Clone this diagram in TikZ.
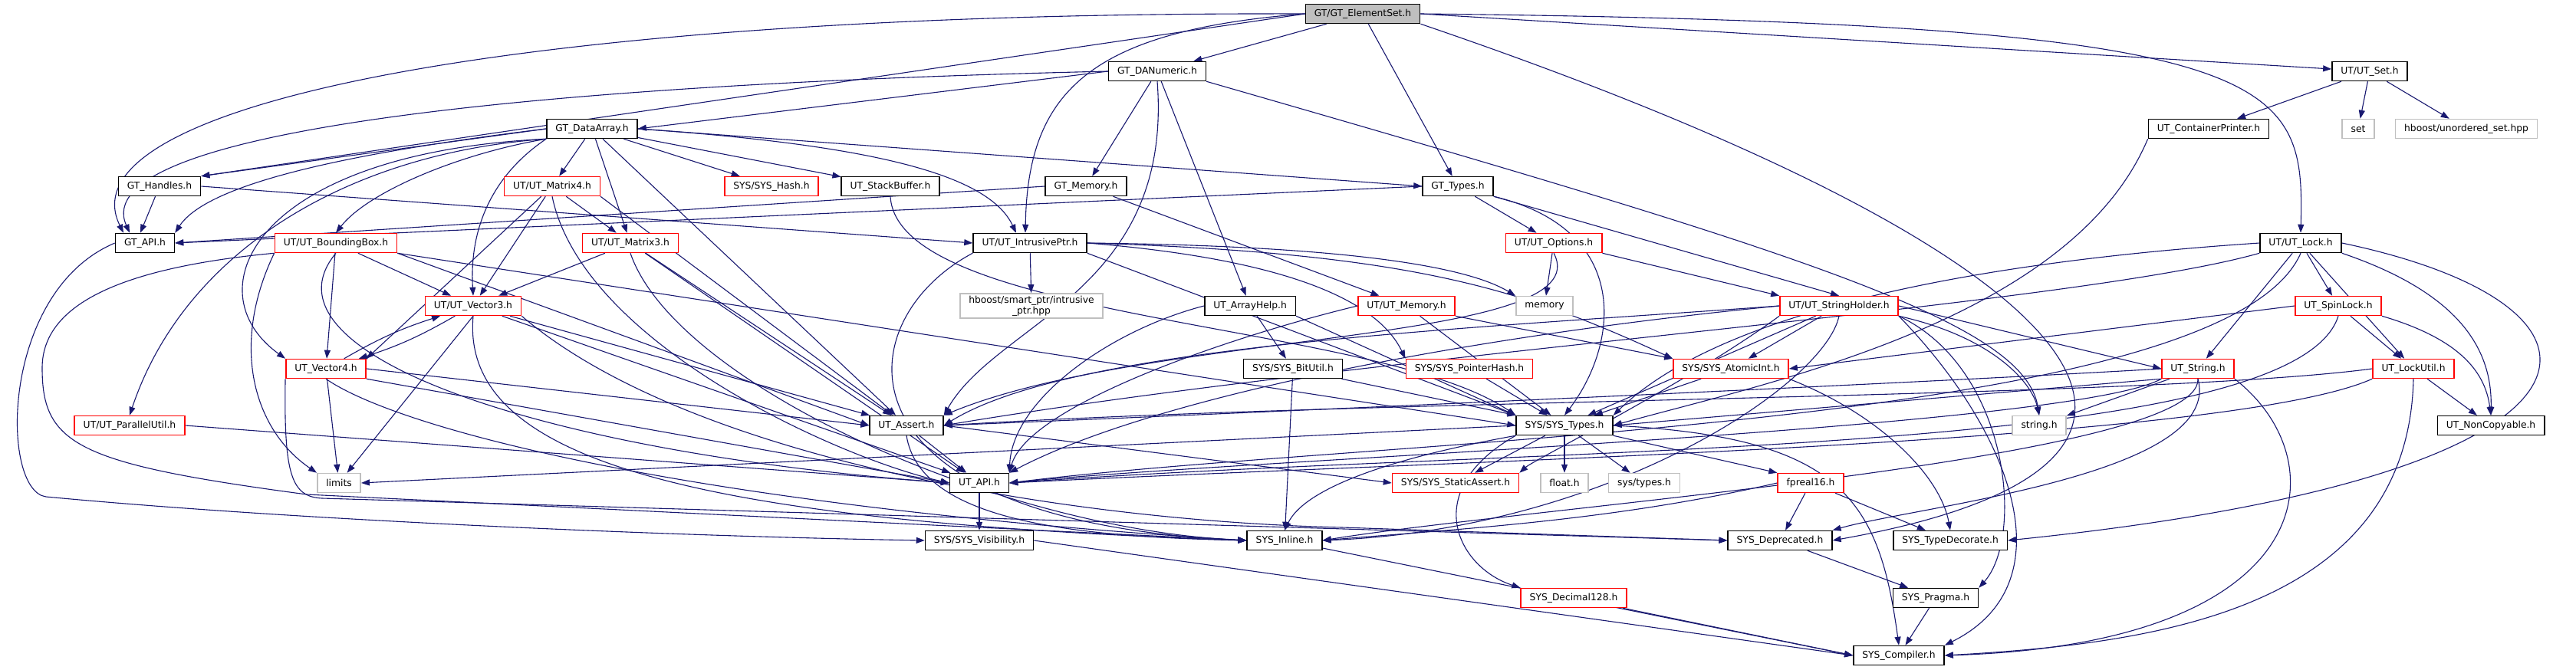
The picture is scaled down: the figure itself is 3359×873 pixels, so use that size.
\documentclass[tikz,border=0pt]{standalone}
\usepackage{fontspec}
\usepackage{xcolor}
\usetikzlibrary{arrows.meta,backgrounds}
\newfontfamily\dotfont{DejaVu Sans}
\definecolor{edgeblue}{HTML}{191970}
\definecolor{grey75}{HTML}{BFBFBF}
\tikzset{
    header/.style = {rectangle, draw=black, line width=1.5pt, fill=white, minimum height=25pt, inner xsep=11.5pt, inner ysep=2pt, text centered, font=\dotfont\fontsize{12.3}{14}\selectfont},
    truncated/.style = {header, draw=red},
    external/.style = {header, draw=grey75},
    current/.style = {header, fill=grey75},
    incl/.style = {draw=edgeblue, line width=1.1pt, -{Triangle[length=11pt,width=8pt]}}
}

\begin{document}
\begin{tikzpicture}[x=1pt, y=-1pt]
    \useasboundingbox (0,0) rectangle (3359,873);

    % Headers
    \node [current] (elementset) at (1777,18) {GT/GT\_ElementSet.h};
    \node [header] (danumeric) at (1509,93) {GT\_DANumeric.h};
    \node [header] (utset) at (3090,93) {UT/UT\_Set.h};
    \node [header] (dataarray) at (772,168) {GT\_DataArray.h};
    \node [header] (contprinter) at (2880,168) {UT\_ContainerPrinter.h};
    \node [external] (stdset) at (3075,168) {set};
    \node [external] (unorderedset) at (3216,168) {hboost/unordered\_set.hpp};
    \node [header] (handles) at (208,243) {GT\_Handles.h};
    \node [truncated] (matrix4) at (720,243) {UT/UT\_Matrix4.h};
    \node [truncated] (syshash) at (1006,243) {SYS/SYS\_Hash.h};
    \node [header] (stackbuffer) at (1161,243) {UT\_StackBuffer.h};
    \node [header] (gtmemory) at (1416,243) {GT\_Memory.h};
    \node [header] (gttypes) at (1901,243) {GT\_Types.h};
    \node [header] (gtapi) at (189,317) {GT\_API.h};
    \node [truncated] (boundingbox) at (438,317) {UT/UT\_BoundingBox.h};
    \node [truncated] (matrix3) at (822,317) {UT/UT\_Matrix3.h};
    \node [header] (intrusiveptr) at (1343,317) {UT/UT\_IntrusivePtr.h};
    \node [truncated] (options) at (2026,317) {UT/UT\_Options.h};
    \node [header] (utlock) at (3000,317) {UT/UT\_Lock.h};
    \node [truncated] (vector3) at (617,399) {UT/UT\_Vector3.h};
    \node [external, align=center, inner ysep=3pt] (smartptr) at (1345,399) {hboost/smart\_ptr/intrusive\\\_ptr.hpp};
    \node [header] (arrayhelp) at (1630,399) {UT\_ArrayHelp.h};
    \node [truncated] (utmemory) at (1834,399) {UT/UT\_Memory.h};
    \node [external] (stdmemory) at (2014,399) {memory};
    \node [truncated] (stringholder) at (2398,399) {UT/UT\_StringHolder.h};
    \node [truncated] (spinlock) at (3049,399) {UT\_SpinLock.h};
    \node [truncated] (vector4) at (425,481) {UT\_Vector4.h};
    \node [header] (bitutil) at (1686,481) {SYS/SYS\_BitUtil.h};
    \node [truncated] (pointerhash) at (1916,481) {SYS/SYS\_PointerHash.h};
    \node [truncated] (atomicint) at (2257,481) {SYS/SYS\_AtomicInt.h};
    \node [truncated] (utstring) at (2866,481) {UT\_String.h};
    \node [truncated] (lockutil) at (3147,481) {UT\_LockUtil.h};
    \node [truncated] (parallelutil) at (169,555) {UT/UT\_ParallelUtil.h};
    \node [header] (utassert) at (1182,555) {UT\_Assert.h};
    \node [header] (systypes) at (2040,555) {SYS/SYS\_Types.h};
    \node [external] (stringh) at (2659,555) {string.h};
    \node [header] (noncopyable) at (3248,555) {UT\_NonCopyable.h};
    \node [external] (limits) at (442,630) {limits};
    \node [header] (utapi) at (1277,630) {UT\_API.h};
    \node [truncated] (staticassert) at (1898,630) {SYS/SYS\_StaticAssert.h};
    \node [external] (floath) at (2040,630) {float.h};
    \node [external] (systypesh) at (2144,630) {sys/types.h};
    \node [truncated] (fpreal16) at (2361,630) {fpreal16.h};
    \node [header] (visibility) at (1277,705) {SYS/SYS\_Visibility.h};
    \node [header] (sysinline) at (1675,705) {SYS\_Inline.h};
    \node [header] (deprecated) at (2321,705) {SYS\_Deprecated.h};
    \node [header] (typedecorate) at (2543,705) {SYS\_TypeDecorate.h};
    \node [truncated] (decimal128) at (2052,780) {SYS\_Decimal128.h};
    \node [header] (pragma) at (2524,780) {SYS\_Pragma.h};
    \node [header] (compiler) at (2476,855) {SYS\_Compiler.h};

    % Includes
    \begin{scope}[on background layer]
    % GT_ElementSet.h
    \draw [incl] (elementset) -- (danumeric);
    \draw [incl] (elementset) -- (gttypes);
    \draw [incl] (elementset.east) -- (utset);
    \draw [incl] (elementset.east) .. controls (2980,30) and (3005,100) .. (utlock.north);
    \draw [incl] (elementset.west) .. controls (650,15) and (80,140) .. ([xshift=-28pt]gtapi.north);
    \draw [incl] (elementset.west) -- (handles.north east);
    \draw [incl] (elementset.west) .. controls (1420,40) and (1340,120) .. ([xshift=-6pt]intrusiveptr.north);
    \draw [incl] (elementset.south east) .. controls (2700,320) and (2980,600) .. (deprecated.east);
    % GT_DANumeric.h
    \draw [incl] (danumeric.west) -- (dataarray.east);
    \draw [incl] (danumeric.west) .. controls (700,110) and (110,170) .. ([xshift=-20pt]gtapi.north);
    \draw [incl] (danumeric) -- (gtmemory);
    \draw [incl] (danumeric) -- (arrayhelp);
    \draw [incl] (danumeric.south) .. controls (1530,380) and (1300,420) .. (utassert.north east);
    \draw [incl] (danumeric.south east) .. controls (2350,330) and (2640,420) .. (stringh.north);
    % UT/UT_Set.h
    \draw [incl] (utset) -- (contprinter);
    \draw [incl] (utset) -- (stdset);
    \draw [incl] (utset) -- (unorderedset);
    % GT_DataArray.h
    \draw [incl] (dataarray.west) -- (handles.north east);
    \draw [incl] (dataarray.west) .. controls (450,200) and (270,240) .. (gtapi.north east);
    \draw [incl] (dataarray.east) -- (gttypes.west);
    \draw [incl] (dataarray) -- (matrix4);
    \draw [incl] (dataarray) -- (matrix3);
    \draw [incl] (dataarray.south west) .. controls (640,230) and (612,300) .. (vector3.north);
    \draw [incl] (dataarray.south west) .. controls (600,200) and (480,250) .. (boundingbox.north);
    \draw [incl] (dataarray.south west) .. controls (330,200) and (250,380) .. (vector4.north west);
    \draw [incl] (dataarray.south west) .. controls (450,200) and (240,330) .. (parallelutil.north);
    \draw [incl] (dataarray) -- (syshash);
    \draw [incl] (dataarray) -- (stackbuffer);
    \draw [incl] (dataarray.east) .. controls (1150,190) and (1290,230) .. ([xshift=-18pt]intrusiveptr.north);
    \draw [incl] (dataarray) -- (utassert);
    % GT_Handles.h
    \draw [incl] (handles) -- ([xshift=-6pt]gtapi.north);
    \draw [incl] (handles.east) -- (intrusiveptr.west);
    % UT/UT_Matrix4.h
    \draw [incl] (matrix4) -- (matrix3);
    \draw [incl] (matrix4) -- (vector3);
    \draw [incl] (matrix4) -- (vector4.north east);
    \draw [incl] (matrix4.south east) -- (utassert);
    \draw [incl] (matrix4.south) .. controls (760,450) and (1100,600) .. (utapi.west);
    % UT/UT_Matrix3.h
    \draw [incl] (matrix3) -- (vector3);
    \draw [incl] (matrix3) -- (utassert);
    \draw [incl] (matrix3) -- (utapi);
    \draw [incl] (matrix3.south) .. controls (880,500) and (1300,690) .. (sysinline.west);
    % UT_StackBuffer.h
    \draw [incl] (stackbuffer.south) .. controls (1170,420) and (1800,420) .. (systypes.north west);
    % GT_Memory.h
    \draw [incl] (gtmemory.west) -- (gtapi.east);
    \draw [incl] (gtmemory) -- (utmemory);
    % GT_Types.h
    \draw [incl] (gttypes.west) -- (gtapi.east);
    \draw [incl] (gttypes) -- (options);
    \draw [incl] (gttypes.south east) -- (stringholder.north);
    \draw [incl] (gttypes.south east) .. controls (2130,300) and (2110,450) .. (systypes.north);
    % GT_API.h
    \draw [incl] (gtapi.west) .. controls (0,380) and (0,640) .. (60,648) .. controls (400,680) and (900,700) .. (visibility.west);
    % UT/UT_BoundingBox.h
    \draw [incl] (boundingbox) -- (vector3);
    \draw [incl] (boundingbox) -- (vector4);
    \draw [incl] (boundingbox.south east) -- (utassert.west);
    \draw [incl] (boundingbox.south east) -- (systypes.west);
    \draw [incl] (boundingbox.south) .. controls (330,460) and (700,590) .. (utapi.west);
    \draw [incl] (boundingbox.south west) .. controls (300,450) and (330,560) .. (limits.north west);
    \draw [incl] (boundingbox.south west) .. controls (150,350) and (55,400) .. (55,480) .. controls (55,580) and (100,605) .. (400,645) -- (sysinline.west);
    % UT/UT_IntrusivePtr.h
    \draw [incl] (intrusiveptr) -- (smartptr);
    \draw [incl] (intrusiveptr.east) .. controls (1700,320) and (1900,340) .. (stdmemory.north west);
    \draw [incl] (intrusiveptr.east) .. controls (1850,330) and (1990,380) .. (atomicint.north west);
    \draw [incl] (intrusiveptr.east) .. controls (1700,340) and (1800,400) .. (pointerhash.north west);
    \draw [incl] (intrusiveptr.south east) -- (systypes.north west);
    \draw [incl] (intrusiveptr.south west) .. controls (1100,420) and (1080,680) .. (sysinline.west);
    % UT/UT_Options.h
    \draw [incl] (options) -- (stdmemory);
    \draw [incl] (options.south east) -- (stringholder.north west);
    \draw [incl] (options.south) .. controls (2090,450) and (1500,430) .. (utassert.north east);
    % UT/UT_Lock.h
    \draw [incl] (utlock) -- (spinlock);
    \draw [incl] (utlock) -- (lockutil);
    \draw [incl] (utlock.south east) .. controls (3200,380) and (3250,450) .. (noncopyable.north);
    \draw [incl] (utlock) -- (utstring);
    \draw [incl] (utlock.west) .. controls (2600,340) and (2250,400) .. (systypes.north east);
    \draw [incl] (utlock.south west) .. controls (2700,400) and (1800,460) .. (utassert.east);
    \draw [incl] (utlock.south) .. controls (2900,560) and (1800,570) .. (utapi.east);
    \draw [incl] (utlock.east) .. controls (3450,400) and (3450,620) .. (typedecorate.east);
    % UT/UT_Vector3.h
    \draw [incl] (vector3) to[bend left=6] (vector4);
    \draw [incl] (vector3) -- (utassert);
    \draw [incl] (vector3) -- (utapi);
    \draw [incl] (vector3.south) .. controls (600,600) and (900,680) .. (sysinline.west);
    \draw [incl] (vector3.south) -- (limits);
    \draw [incl] (vector3.south east) .. controls (900,600) and (1400,680) .. (1750,688) -- (deprecated.west);
    % UT_Vector4.h
    \draw [incl] (vector4) to[bend left=6] (vector3);
    \draw [incl] (vector4) -- (limits);
    \draw [incl] (vector4.east) -- (utassert.west);
    \draw [incl] (vector4.south east) -- (utapi.west);
    \draw [incl] (vector4.south) .. controls (520,560) and (900,660) .. (sysinline.west);
    \draw [incl] (vector4.south west) .. controls (370,620) and (380,648) .. (420,650) -- (deprecated.west);
    % UT_ArrayHelp.h
    \draw [incl] (arrayhelp) -- (bitutil);
    \draw [incl] (arrayhelp.south east) -- (systypes.north west);
    \draw [incl] (arrayhelp.west) .. controls (1450,430) and (1320,520) .. (utapi.north east);
    % UT/UT_Memory.h
    \draw [incl] (utmemory.west) .. controls (1600,440) and (1340,530) .. (utapi.north east);
    \draw [incl] (utmemory) -- (systypes);
    \draw [incl] (utmemory.south east) -- (atomicint.north west);
    % UT/UT_StringHolder.h
    \draw [incl] (stringholder.west) .. controls (1900,430) and (1400,450) .. (utassert.east);
    \draw [incl] (stringholder.west) .. controls (1900,440) and (1500,520) .. (utapi.north east);
    \draw [incl] (stringholder) -- (systypes);
    \draw [incl] (stringholder) -- (atomicint);
    \draw [incl] (stringholder.east) -- (utstring.west);
    \draw [incl] (stringholder.south east) .. controls (2600,440) and (2650,500) .. (stringh.north);
    \draw [incl] (stringholder.south) .. controls (2380,500) and (2100,690) .. (sysinline.east);
    \draw [incl] (stringholder.south east) .. controls (2620,480) and (2640,700) .. (pragma.north east);
    \draw [incl] (stringholder.south east) .. controls (2620,560) and (2700,760) .. (compiler.north east);
    \draw [incl] (stringholder.south west) .. controls (2200,500) and (2000,600) .. (staticassert.north east);
    % UT_SpinLock.h
    \draw [incl] (spinlock) -- (lockutil);
    \draw [incl] (spinlock.south east) .. controls (3200,440) and (3240,480) .. (noncopyable.north);
    \draw [incl] (spinlock.west) -- (atomicint.east);
    \draw [incl] (spinlock.south) .. controls (2990,600) and (2000,580) .. (utapi.east);
    % SYS headers
    \draw [incl] (bitutil) -- (systypes);
    \draw [incl] (bitutil) -- (sysinline);
    \draw [incl] (pointerhash) -- (systypes);
    \draw [incl] (atomicint) -- (systypes);
    \draw [incl] (atomicint.south east) .. controls (2450,540) and (2530,620) .. (typedecorate.north);
    % UT_String.h
    \draw [incl] (utstring) -- (stringh);
    \draw [incl] (utstring.west) .. controls (2500,500) and (1600,540) .. (utassert.east);
    \draw [incl] (utstring.south west) .. controls (2700,560) and (1600,600) .. (utapi.east);
    \draw [incl] (utstring.south west) -- (systypes.east);
    \draw [incl] (utstring.south) .. controls (2870,600) and (2000,660) .. (sysinline.east);
    \draw [incl] (utstring.south) .. controls (2900,620) and (2500,660) .. (deprecated.north east);
    \draw [incl] (utstring.south east) .. controls (3050,600) and (3030,840) .. (compiler.east);
    % UT_LockUtil.h
    \draw [incl] (lockutil) -- (noncopyable);
    \draw [incl] (lockutil.west) .. controls (2800,520) and (1800,520) .. (utassert.east);
    \draw [incl] (lockutil.south west) .. controls (2900,580) and (1900,600) .. (utapi.east);
    \draw [incl] (lockutil.south) .. controls (3140,800) and (2800,840) .. (compiler.east);
    % UT/UT_ContainerPrinter.h
    \draw [incl] (contprinter.south west) .. controls (2700,420) and (2300,500) .. (systypes.east);
    % UT/UT_ParallelUtil.h
    \draw [incl] (parallelutil.east) -- (utapi.west);
    % UT_Assert.h
    \draw [incl] (utassert) -- (utapi);
    \draw [incl] (utassert.east) -- (staticassert.west);
    \draw [incl] (utassert.south) .. controls (1200,680) and (1400,700) .. (sysinline.west);
    % SYS/SYS_Types.h
    \draw [incl] (systypes.west) -- (limits.east);
    \draw [incl] (systypes) -- (floath);
    \draw [incl] (systypes) -- (systypesh);
    \draw [incl] (systypes.south east) -- (fpreal16.north west);
    \draw [incl] (systypes) -- (staticassert);
    \draw [incl] (systypes.south west) .. controls (1800,600) and (1700,640) .. (sysinline.north);
    \draw [incl] (systypes.south west) .. controls (1850,640) and (1900,740) .. (decimal128.north west);
    \draw [incl] (systypes.east) .. controls (2400,570) and (2450,650) .. (compiler.north);
    % UT_API.h, fpreal16.h and the rest
    \draw [incl] (utapi) -- (visibility);
    \draw [incl] (fpreal16.west) .. controls (2100,680) and (1900,690) .. (sysinline.east);
    \draw [incl] (fpreal16) -- (deprecated);
    \draw [incl] (fpreal16) -- (typedecorate);
    \draw [incl] (visibility.east) -- (compiler.west);
    \draw [incl] (sysinline) -- (compiler.west);
    \draw [incl] (deprecated) -- (pragma);
    \draw [incl] (pragma) -- (compiler);
    \draw [incl] (decimal128) -- (compiler.west);
    \end{scope}
\end{tikzpicture}
\end{document}
